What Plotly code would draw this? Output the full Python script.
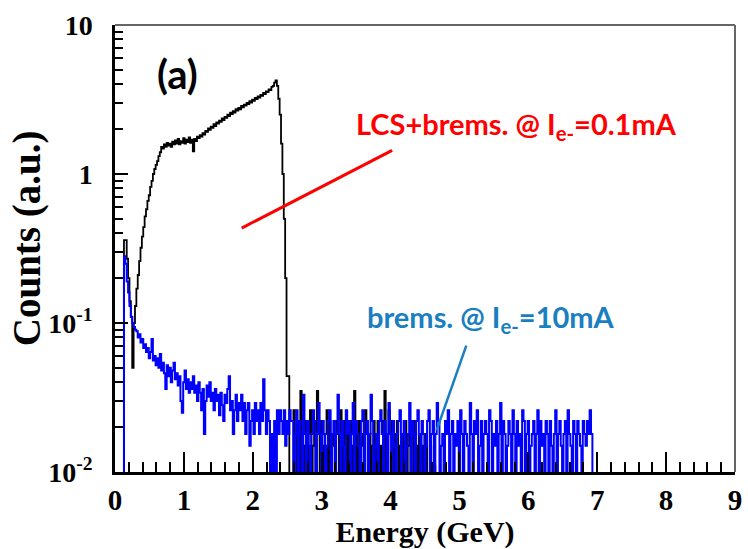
import numpy as np
import plotly.graph_objects as go

# ---------------- data ----------------
bin_width = 0.02          # GeV
first_edge = 0.13         # GeV, lower edge of the first bin

# LCS + brems @ Ie- = 0.1 mA  (black histogram), one value per bin from first_edge
lcs_brems = [
    0.36, 0.36, 0.27, 0.20, 0.14, 0.11, 0.05, 0.10, 0.13, 0.17,
    0.21, 0.26, 0.32, 0.38, 0.44, 0.52, 0.58, 0.66, 0.72, 0.82,
    0.90, 1.00, 1.08, 1.15, 1.22, 1.32, 1.40, 1.52, 1.48, 1.58,
    1.52, 1.62, 1.55, 1.60, 1.52, 1.65, 1.58, 1.68, 1.60, 1.72,
    1.58, 1.66, 1.62, 1.74, 1.60, 1.70, 1.64, 1.76, 1.62, 1.70,
    1.42, 1.72, 1.66, 1.78, 1.74, 1.82, 1.78, 1.88, 1.84, 1.95,
    1.92, 2.02, 1.98, 2.08, 2.04, 2.16, 2.10, 2.22, 2.18, 2.28,
    2.24, 2.36, 2.30, 2.42, 2.38, 2.50, 2.45, 2.58, 2.52, 2.64,
    2.58, 2.72, 2.66, 2.78, 2.72, 2.86, 2.80, 2.92, 2.88, 3.00,
    2.95, 3.08, 3.02, 3.16, 3.10, 3.24, 3.18, 3.32, 3.26, 3.40,
    3.34, 3.50, 3.44, 3.58, 3.54, 3.70, 3.66, 3.84, 3.90, 4.10,
    4.25, 3.90, 3.20, 2.50, 1.60, 1.00, 0.50, 0.20, 0.044, 0.044,
    0.0, 0.0,
    0.0, 0.026, 0.018, 0.0, 0.022, 0.0, 0.035, 0.018, 0.0, 0.015,
    0.022, 0.0, 0.018, 0.026, 0.0, 0.015, 0.022, 0.0, 0.035, 0.018,
    0.0, 0.022, 0.015, 0.0, 0.018, 0.026, 0.0, 0.022, 0.0, 0.018,
    0.015, 0.0, 0.022, 0.018, 0.0, 0.026, 0.0, 0.015, 0.022, 0.0,
    0.018, 0.0, 0.022, 0.015, 0.0, 0.035, 0.018, 0.0, 0.022, 0.0,
    0.015, 0.018, 0.0, 0.026, 0.022, 0.0, 0.018, 0.0, 0.015, 0.022,
    0.0, 0.018, 0.022, 0.0, 0.015, 0.0, 0.022, 0.035, 0.0, 0.018,
    0.026, 0.022, 0.0, 0.015, 0.0, 0.018, 0.022, 0.0, 0.015, 0.0,
    0.018, 0.0, 0.022, 0.0, 0.015, 0.018, 0.0, 0.0, 0.022, 0.0,
    0.015, 0.0, 0.018, 0.0, 0.0, 0.015, 0.0, 0.018, 0.0, 0.0,
    0.015, 0.0, 0.0, 0.011,
]

# brems @ Ie- = 10 mA  (blue histogram)
brems = [
    0.28, 0.25, 0.19, 0.16, 0.13, 0.11, 0.10, 0.094, 0.090, 0.088,
    0.080, 0.084, 0.074, 0.078, 0.068, 0.072, 0.064, 0.068, 0.058, 0.064,
    0.078, 0.056, 0.060, 0.052, 0.058, 0.050, 0.062, 0.048, 0.054, 0.046,
    0.036, 0.052, 0.044, 0.050, 0.040, 0.048, 0.054, 0.042, 0.046, 0.038,
    0.044, 0.030, 0.025, 0.040, 0.048, 0.036, 0.042, 0.034, 0.040, 0.036,
    0.044, 0.034, 0.038, 0.030, 0.040, 0.034, 0.026, 0.036, 0.018, 0.030,
    0.038, 0.032, 0.040, 0.030, 0.034, 0.026, 0.036, 0.030, 0.033, 0.024,
    0.034, 0.028, 0.022, 0.033, 0.029, 0.036, 0.044, 0.026, 0.030, 0.018,
    0.026, 0.033, 0.022, 0.029, 0.026, 0.033, 0.022, 0.029, 0.018, 0.026,
    0.029, 0.015, 0.022, 0.026, 0.018, 0.029, 0.022, 0.026, 0.018, 0.029,
    0.022, 0.042, 0.026, 0.018, 0.026, 0.022, 0.0, 0.018, 0.0, 0.022,
    0.0, 0.026, 0.018, 0.026, 0.022, 0.018, 0.026, 0.015, 0.022, 0.018,
    0.026, 0.022,
    0.022, 0.0, 0.018, 0.026, 0.0, 0.022, 0.018, 0.0, 0.033, 0.018,
    0.0, 0.022, 0.015, 0.0, 0.018, 0.026, 0.022, 0.0, 0.018, 0.029,
    0.018, 0.0, 0.022, 0.018, 0.0, 0.015, 0.022, 0.026, 0.0, 0.018,
    0.022, 0.0, 0.018, 0.033, 0.018, 0.0, 0.022, 0.015, 0.0, 0.026,
    0.018, 0.022, 0.0, 0.018, 0.029, 0.0, 0.022, 0.018, 0.015, 0.0,
    0.022, 0.026, 0.0, 0.018, 0.022, 0.0, 0.018, 0.033, 0.022, 0.0,
    0.015, 0.018, 0.0, 0.022, 0.026, 0.018, 0.0, 0.022, 0.018, 0.0,
    0.029, 0.018, 0.0, 0.022, 0.015, 0.0, 0.018, 0.022, 0.026, 0.0,
    0.018, 0.022, 0.0, 0.015, 0.018, 0.029, 0.0, 0.022, 0.018, 0.0,
    0.022, 0.026, 0.018, 0.0, 0.022, 0.018, 0.0, 0.015, 0.022, 0.026,
    0.0, 0.018, 0.022, 0.0, 0.018, 0.029, 0.022, 0.0, 0.015, 0.018,
    0.0, 0.022, 0.018, 0.026, 0.0, 0.018, 0.022, 0.0, 0.018, 0.015,
    0.022, 0.0, 0.026, 0.018, 0.0, 0.022, 0.018, 0.015, 0.0, 0.029,
    0.018, 0.0, 0.022, 0.018, 0.026, 0.0, 0.015, 0.022, 0.0, 0.018,
    0.022, 0.018, 0.0, 0.026, 0.022, 0.0, 0.018, 0.015, 0.022, 0.0,
    0.018, 0.029, 0.0, 0.022, 0.018, 0.0, 0.015, 0.022, 0.018, 0.0,
    0.026, 0.018, 0.0, 0.022, 0.015, 0.018, 0.0, 0.026, 0.022, 0.0,
    0.018, 0.022, 0.0, 0.015, 0.018, 0.022, 0.0, 0.018, 0.026, 0.0,
    0.022, 0.015, 0.018, 0.0, 0.022, 0.018, 0.0, 0.022, 0.015, 0.0,
    0.018, 0.026, 0.0, 0.018, 0.022, 0.015, 0.0, 0.018, 0.022, 0.0,
    0.026, 0.018, 0.015, 0.0, 0.022, 0.018, 0.0, 0.022, 0.018, 0.015,
    0.0, 0.022, 0.018, 0.015, 0.022, 0.018, 0.026, 0.018,
]

x_tick_vals = list(range(0, 10))
y_tick_vals = [0.01, 0.1, 1, 10]
y_tick_text = ["10<sup>-2</sup>", "10<sup>-1</sup>", "1", "10"]
y_minor_vals = [m * d for d in (0.01, 0.1, 1) for m in range(2, 10)]

x_title = "Energy (GeV)"
y_title = "Counts (a.u.)"
panel_label = "(a)"
label_lcs = "LCS+brems. @ I<sub>e-</sub>=0.1mA"
label_brems = "brems. @ I<sub>e-</sub>=10mA"

FLOOR = 1e-4  # empty bins are drawn below the axis minimum (clipped)


def step_xy(values):
    v = np.array(values, dtype=float)
    v = np.where(v > 0, v, FLOOR)
    edges = first_edge + bin_width * np.arange(len(v) + 1)
    xs = np.concatenate([[edges[0]], edges[:-1], [edges[-1]], [edges[-1]]])
    ys = np.concatenate([[FLOOR], v, [v[-1]], [FLOOR]])
    return xs, ys


fig = go.Figure()
bx, by = step_xy(lcs_brems)
fig.add_trace(go.Scatter(x=bx, y=by, mode="lines", line=dict(color="black", width=1.8, shape="hv"),
                         hoverinfo="skip", showlegend=False))
ux, uy = step_xy(brems)
fig.add_trace(go.Scatter(x=ux, y=uy, mode="lines", line=dict(color="#0000ff", width=2.0, shape="hv"),
                         hoverinfo="skip", showlegend=False))

serif = "Liberation Serif"
fig.update_layout(
    width=748, height=549,
    margin=dict(l=115, r=6, t=25, b=75),
    paper_bgcolor="white", plot_bgcolor="white",
    font=dict(family=serif, color="black"),
    xaxis=dict(
        range=[0, 9], tickmode="array", tickvals=x_tick_vals,
        ticks="inside", ticklen=20, tickwidth=1.5, tickcolor="black",
        minor=dict(dtick=0.2, tick0=0, ticks="inside", ticklen=10, tickwidth=1.5, tickcolor="black"),
        showline=True, linecolor="black", linewidth=2.5,
        showgrid=False, zeroline=False, ticklabeloverflow="allow",
        tickfont=dict(family=serif, size=29, weight="bold", color="black"),
        title=dict(text=x_title, font=dict(family=serif, size=30, weight="bold", color="black"), standoff=6),
    ),
    yaxis=dict(
        type="log", range=[-2, 1], tickmode="array", tickvals=y_tick_vals, ticktext=y_tick_text,
        ticks="inside", ticklen=13, tickwidth=1.5, tickcolor="black",
        minor=dict(tickmode="array", tickvals=y_minor_vals, ticks="inside", ticklen=8,
                   tickwidth=1.5, tickcolor="black"),
        showline=True, linecolor="black", linewidth=2.5,
        showgrid=False, zeroline=False,
        ticklabelstandoff=14,
        tickfont=dict(family=serif, size=28, weight="bold", color="black"),
    ),
    shapes=[
        dict(type="line", xref="paper", yref="paper", x0=0, y0=1, x1=1, y1=1,
             line=dict(color="#666666", width=2)),
        dict(type="line", xref="paper", yref="paper", x0=1, y0=0, x1=1, y1=1,
             line=dict(color="#666666", width=2)),
        dict(type="line", xref="paper", yref="paper", x0=0.2043, y0=0.5457, x1=0.447, y1=0.7194,
             line=dict(color="#ff0000", width=3)),
        dict(type="line", xref="paper", yref="paper", x0=0.5666, y0=0.2829, x1=0.5188, y1=0.0935,
             line=dict(color="#1a7fc0", width=2.5)),
    ],
    annotations=[
        dict(text=y_title, xref="paper", yref="paper", x=-0.142, y=0.523, showarrow=False,
             textangle=-90, xanchor="center", yanchor="middle",
             font=dict(family=serif, size=39, weight="bold", color="black")),
        dict(text=panel_label, xref="paper", yref="paper", x=0.1, y=0.891, showarrow=False,
             xanchor="center", yanchor="middle",
             font=dict(family="Lato", size=40, weight="bold", color="black")),
        dict(text=label_lcs, xref="paper", yref="paper", x=0.648, y=0.775, showarrow=False,
             xanchor="center", yanchor="middle",
             font=dict(family="Lato", size=29, weight="bold", color="#ff0000")),
        dict(text=label_brems, xref="paper", yref="paper", x=0.607, y=0.343, showarrow=False,
             xanchor="center", yanchor="middle",
             font=dict(family="Lato", size=29, weight="bold", color="#1a7fc0")),
    ],
)

fig.write_html("out.html")
